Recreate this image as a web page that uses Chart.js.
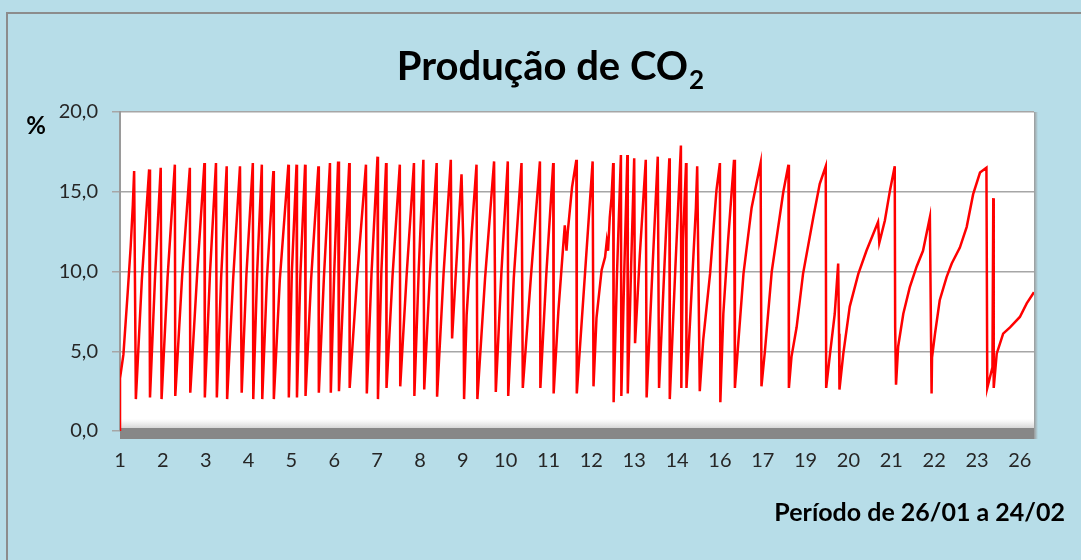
<!DOCTYPE html>
<html><head><meta charset="utf-8">
<script src="https://cdn.jsdelivr.net/npm/chart.js@4.4.1/dist/chart.umd.min.js"></script>
<style>html,body{margin:0;padding:0;background:#b7dde8;overflow:hidden}#wrap{width:1081px;height:560px}canvas{display:block}</style>
</head><body><div id="wrap"><canvas id="c" width="1081" height="560"></canvas></div>
<script>
// category labels shown under the axis (one every N samples)
const tickLabels = ['1','2','3','4','5','6','7','8','9','10','11','12','13','14','16','17','19','20','21','22','23','26'];
// y axis ticks (%)
const yTicks = [0, 5, 10, 15, 20];
// CO2 production: [position along period (in label steps), %]
const co2Series = [
  [0.00,0.0],[0.00,3.3],[0.08,4.8],[0.18,8.7],[0.25,11.6],[0.30,14.2],[0.33,16.3],
  [0.37,2.0],[0.51,9.5],[0.68,16.4],
  [0.70,2.1],[0.82,9.8],[0.95,16.5],
  [0.97,2.0],[1.11,9.6],[1.28,16.7],
  [1.29,2.2],[1.45,9.7],[1.63,16.5],
  [1.64,2.4],[1.80,9.8],[1.97,16.8],
  [1.98,2.1],[2.10,9.9],[2.24,16.8],
  [2.26,2.1],[2.36,9.6],[2.49,16.6],
  [2.50,2.0],[2.64,9.5],[2.80,16.6],
  [2.84,2.4],[2.95,9.8],[3.10,16.8],
  [3.11,2.0],[3.20,9.9],[3.31,16.7],
  [3.32,2.0],[3.43,9.6],[3.58,16.3],
  [3.59,2.0],[3.73,9.5],[3.93,16.7],
  [3.94,2.1],[4.01,9.9],[4.12,16.7],
  [4.13,2.1],[4.21,9.8],[4.32,16.7],
  [4.33,2.2],[4.46,9.5],[4.63,16.6],
  [4.64,2.4],[4.76,9.7],[4.90,16.8],
  [4.92,2.4],[5.00,10.0],[5.09,16.9],
  [5.11,2.5],[5.23,9.8],[5.35,16.8],
  [5.36,2.7],[5.53,9.5],[5.74,16.7],
  [5.76,2.35],[5.87,9.9],[6.01,17.2],
  [6.02,2.0],[6.10,10.0],[6.21,16.8],
  [6.22,2.7],[6.36,9.7],[6.53,16.7],
  [6.54,2.8],[6.69,9.8],[6.86,16.8],
  [6.87,2.2],[6.97,10.0],[7.08,17.0],
  [7.10,2.6],[7.23,9.7],[7.39,16.8],
  [7.40,2.15],[7.55,9.8],[7.72,17.0],
  [7.75,5.8],[7.97,16.1],[8.01,12.0],
  [8.03,2.0],[8.09,7.3],[8.21,12.5],[8.32,16.7],
  [8.34,2.0],[8.52,9.6],[8.73,16.9],
  [8.77,2.45],[8.90,9.9],[9.05,16.9],
  [9.06,2.2],[9.19,9.6],[9.37,16.8],
  [9.40,2.7],[9.59,9.7],[9.80,16.9],
  [9.81,2.7],[9.95,9.9],[10.11,16.8],
  [10.12,2.35],[10.23,7.5],[10.34,11.5],[10.38,12.9],[10.42,11.3],[10.45,12.5],[10.55,15.3],[10.65,17.0],
  [10.66,2.35],[10.85,9.8],[11.03,16.9],
  [11.05,2.8],[11.12,7.1],[11.24,10.1],[11.32,10.9],[11.36,11.9],[11.39,11.3],[11.43,13.4],[11.47,14.6],[11.51,16.8],
  [11.52,1.8],[11.60,10.0],[11.69,17.3],
  [11.70,2.2],[11.77,10.2],[11.84,17.3],
  [11.85,2.35],[11.93,10.5],[12.00,17.1],
  [12.02,5.5],[12.13,11.0],[12.27,17.0],
  [12.29,2.1],[12.42,9.8],[12.55,17.2],
  [12.58,2.7],[12.70,10.0],[12.82,17.1],
  [12.83,2.0],[12.96,10.2],[13.09,17.9],
  [13.10,2.7],[13.14,12.0],[13.21,16.8],
  [13.22,2.7],[13.30,6.7],[13.38,10.9],[13.44,14.0],[13.47,16.6],
  [13.53,2.5],[13.61,5.7],[13.77,9.85],[13.92,15.1],[14.00,16.8],
  [14.01,1.8],[14.08,7.35],[14.19,11.9],[14.27,14.85],[14.33,17.0],
  [14.35,2.7],[14.55,9.85],[14.74,14.0],[14.95,16.8],
  [14.97,2.8],[15.05,5.0],[15.21,10.0],[15.48,15.0],[15.60,16.7],
  [15.61,2.7],[15.67,4.65],[15.79,6.5],[15.94,9.85],[16.18,13.4],[16.33,15.5],[16.47,16.6],
  [16.48,2.7],[16.57,4.85],[16.68,7.35],[16.76,10.5],[16.78,6.1],
  [16.79,2.6],[16.88,4.85],[17.03,7.8],[17.23,9.85],[17.42,11.3],[17.69,13.1],[17.72,11.8],[17.85,13.2],[17.97,15.1],[18.08,16.6],
  [18.09,6.5],[18.11,2.9],[18.16,5.3],[18.28,7.35],[18.43,9.0],[18.59,10.3],[18.74,11.3],[18.90,13.4],
  [18.94,2.35],[18.95,4.6],[19.02,6.1],[19.13,8.2],[19.29,9.65],[19.41,10.5],[19.60,11.5],[19.76,12.8],[19.91,14.85],[20.07,16.2],[20.22,16.5],
  [20.24,2.7],[20.36,4.0],[20.38,14.6],
  [20.39,2.7],[20.46,4.85],[20.61,6.1],[20.77,6.5],[21.00,7.15],[21.16,8.0],[21.33,8.7]
];
const xEnd = 21.33;
const titleMain = 'Produção de CO';
const titleSub = '2';
const yUnitLabel = '%';
const xAxisTitle = 'Período de 26/01 a 24/02';

const FONT = 'Lato, Carlito, "Open Sans", sans-serif';

const framePlugin = {
  id: 'frame',
  beforeDraw(chart) {
    const {ctx, chartArea: a, width, height} = chart;
    ctx.save();
    ctx.fillStyle = '#b7dde8';
    ctx.fillRect(0, 0, width, height);
    ctx.strokeStyle = '#8c8c8c';
    ctx.lineWidth = 2;
    ctx.beginPath();
    ctx.moveTo(7, height); ctx.lineTo(7, 13); ctx.lineTo(width, 13);
    ctx.stroke();
    ctx.fillStyle = '#ffffff';
    ctx.fillRect(a.left, a.top, a.right - a.left, a.bottom - a.top);
    const g = ctx.createLinearGradient(a.right, 0, a.right + 4, 0);
    g.addColorStop(0, '#9a9a9a'); g.addColorStop(1, 'rgba(150,150,150,0)');
    ctx.fillStyle = g;
    ctx.fillRect(a.right, a.top, 4, a.bottom - a.top + 8);
    ctx.restore();
  },
  beforeDatasetsDraw(chart) {
    const {ctx, chartArea: a} = chart;
    ctx.save();
    const g = ctx.createLinearGradient(0, a.bottom - 12, 0, a.bottom - 3);
    g.addColorStop(0, 'rgba(225,225,225,0)'); g.addColorStop(1, '#d6d6d6');
    ctx.fillStyle = g;
    ctx.fillRect(a.left, a.bottom - 12, a.right - a.left, 9);
    ctx.fillStyle = '#878787';
    ctx.fillRect(a.left, a.bottom - 3, a.right - a.left, 11);
    ctx.restore();
  },
  afterDraw(chart) {
    const {ctx} = chart;
    ctx.save();
    ctx.fillStyle = '#000';
    ctx.textBaseline = 'alphabetic';
    ctx.font = 'bold 40px ' + FONT;
    const w1 = ctx.measureText(titleMain).width;
    ctx.font = 'bold 26px ' + FONT;
    const w2 = ctx.measureText(titleSub).width;
    const x0 = 550 - (w1 + w2) / 2;
    ctx.textAlign = 'left';
    ctx.font = 'bold 40px ' + FONT;
    ctx.fillText(titleMain, x0, 80);
    ctx.font = 'bold 26px ' + FONT;
    ctx.fillText(titleSub, x0 + w1 + 1, 89);
    ctx.font = 'bold 24px ' + FONT;
    ctx.textAlign = 'center';
    ctx.fillText(yUnitLabel, 36, 134);
    ctx.font = 'bold 25px ' + FONT;
    ctx.textAlign = 'right';
    ctx.fillText(xAxisTitle, 1065, 521);
    ctx.restore();
  }
};

function build() {
  new Chart(document.getElementById('c'), {
    type: 'line',
    data: {
      datasets: [{
        label: 'CO2',
        data: co2Series.map(p => ({x: p[0], y: p[1]})),
        borderColor: '#ff0000',
        borderWidth: 2.5,
        pointRadius: 0,
        tension: 0,
        fill: false
      }]
    },
    options: {
      responsive: false,
      animation: false,
      layout: {padding: {top: 112, right: 47, bottom: 89, left: 0}},
      plugins: {legend: {display: false}, tooltip: {enabled: false}},
      scales: {
        x: {
          type: 'linear', min: 0, max: xEnd,
          afterBuildTicks(s) { s.ticks = tickLabels.map((_, i) => ({value: i})); },
          ticks: {
            callback: (v, i) => tickLabels[i],
            color: '#262626', font: {family: FONT, size: 20}, padding: 18,
            maxRotation: 0, autoSkip: false
          },
          grid: {display: false, drawTicks: false},
          border: {display: false},
          afterFit(s) { s.height = 40; }
        },
        y: {
          min: 0, max: 20,
          afterBuildTicks(s) { s.ticks = yTicks.map(v => ({value: v})); },
          ticks: {
            callback: v => Number(v).toFixed(1).replace('.', ','),
            color: '#262626', font: {family: FONT, size: 20}, padding: 14
          },
          grid: {color: '#a6a6a6', lineWidth: 1.5, drawTicks: true, tickLength: 8, tickColor: '#a6a6a6'},
          border: {display: true, color: '#9a9a9a', width: 2},
          afterFit(s) { s.width = 120; }
        }
      }
    },
    plugins: [framePlugin]
  });
}
if (document.fonts && document.fonts.load) {
  Promise.all([document.fonts.load('bold 40px Lato'), document.fonts.load('20px Lato')]).then(build, build);
} else { build(); }
</script>
</body></html>
